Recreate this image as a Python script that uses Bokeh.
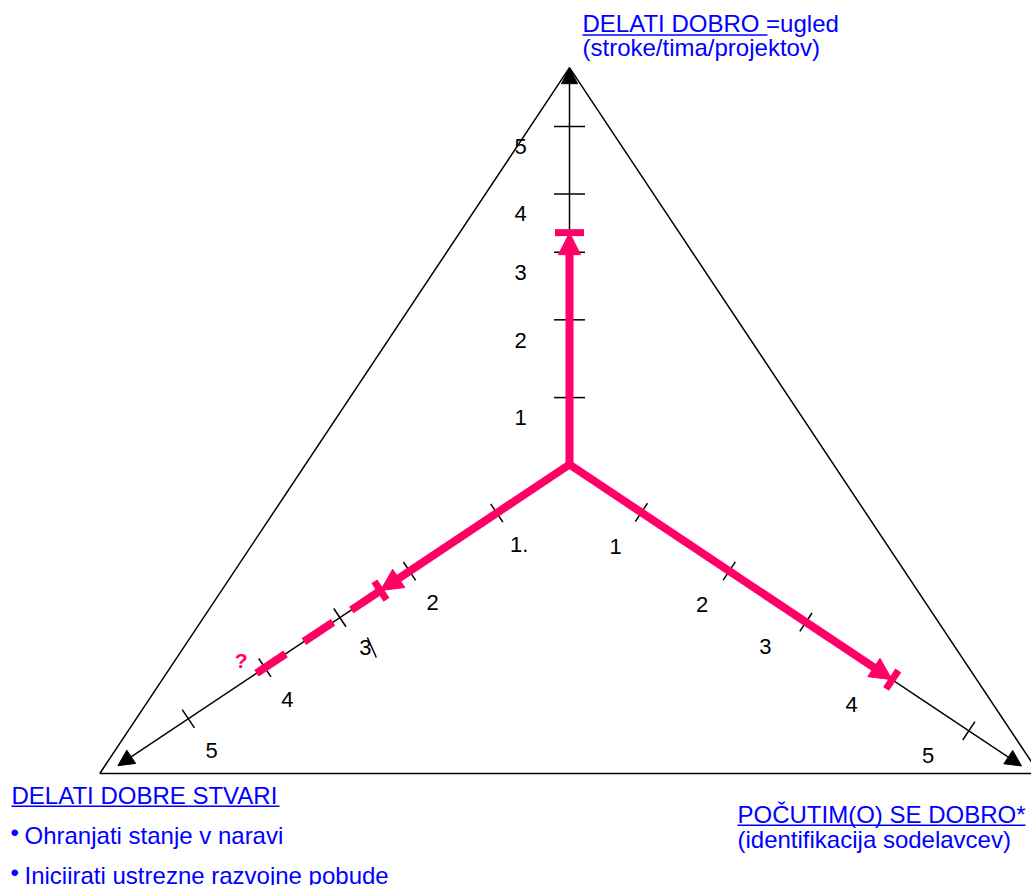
import math
from bokeh.plotting import figure
from bokeh.models import Range1d, Arrow, NormalHead
from bokeh.core.properties import value
from bokeh.embed import file_html
from bokeh.resources import INLINE

# ---------------- data ----------------
tick_labels = ["1", "2", "3", "4", "5"]
left_tick_labels = ["1.", "2", "3", "4", "5"]
# tick positions along each axis, as drawn in the original (score units)
tick_pos_top = [0.99, 2.14, 3.14, 4.0, 5.0]
tick_pos_right = [0.90, 2.0, 2.96, 4.04, 5.0]
tick_pos_left = [0.95, 2.09, 3.0, 3.98, 4.98]
# where the tick numbers sit along each axis (score units), as drawn in the original
label_pos_top = [0.70, 1.83, 2.84, 3.71, 4.70]
label_pos_right = [0.875, 1.96, 2.75, 3.83, 4.79]
label_pos_left = [0.94, 2.07, 2.95, 3.97, 4.96]
# assessed scores: top, right, left
score_solid = [3.43, 4.04, 2.47]
score_uncertain_left = 4.1
uncertain_mark = "?"

top_title = "DELATI DOBRO =ugled"
top_sub = "(stroke/tima/projektov)"
left_title = "DELATI DOBRE STVARI"
left_items = ["Ohranjati stanje v naravi", "Iniciirati ustrezne razvojne pobude"]
right_title = "POČUTIM(O) SE DOBRO*"
right_sub = "(identifikacija sodelavcev)"

# ---------------- style / layout ----------------
PINK = "#FF0066"
BLUE = "#0000FF"
FONT = "Liberation Sans"
TITLE_SIZE = "24px"
NUM_SIZE = "22px"

W, H = 1031, 885
CX, CY = 569, 464

p = figure(width=W, height=H, x_range=Range1d(0, W), y_range=Range1d(H, 0),
           output_backend="svg", toolbar_location=None, min_border=0,
           x_axis_location=None, y_axis_location=None)
p.grid.visible = False
p.outline_line_color = None
p.background_fill_color = "white"
p.border_fill_color = "white"

AXES = [
    dict(angle=-90.0, unit=67.6, extent=5.87, tick_half=15.5, cap_half=14.5, lab_perp=-49,
         ticks=tick_pos_top, lab_pos=label_pos_top, labels=tick_labels, score=score_solid[0]),
    dict(angle=33.7, unit=96.0, extent=5.66, tick_half=11, cap_half=11, lab_perp=43,
         ticks=tick_pos_right, lab_pos=label_pos_right, labels=tick_labels, score=score_solid[1]),
    dict(angle=146.3, unit=92.0, extent=5.9, tick_half=11, cap_half=11, lab_perp=-39,
         ticks=tick_pos_left, lab_pos=label_pos_left, labels=left_tick_labels, score=score_solid[2]),
]


def pt(ax, v, perp=0.0):
    a = math.radians(ax["angle"])
    dx, dy = math.cos(a), math.sin(a)
    nx, ny = -dy, dx
    L = v * ax["unit"]
    return CX + L * dx + perp * nx, CY + L * dy + perp * ny


# outer triangle (apex on top axis tip)
apx, apy = pt(AXES[0], AXES[0]["extent"])
base_y = 773
half_w = (base_y - apy) * 0.6655
tri_x = [CX - half_w, apx, CX + half_w, CX - half_w]
tri_y = [base_y, apy, base_y, base_y]
p.line(tri_x, tri_y, line_color="black", line_width=1.5)

# black axes with arrow heads
for ax in AXES:
    ex, ey = pt(ax, ax["extent"])
    p.add_layout(Arrow(end=NormalHead(size=16, fill_color="black", line_color="black"),
                       x_start=CX, y_start=CY, x_end=ex, y_end=ey,
                       line_color="black", line_width=1.5))

# ticks and labels
tx0, ty0, tx1, ty1 = [], [], [], []
lx, ly, lt = [], [], []
for ax in AXES:
    for v, lv, lab in zip(ax["ticks"], ax["lab_pos"], ax["labels"]):
        a0 = pt(ax, v, -ax["tick_half"])
        a1 = pt(ax, v, ax["tick_half"])
        tx0.append(a0[0]); ty0.append(a0[1]); tx1.append(a1[0]); ty1.append(a1[1])
        q = pt(ax, lv, ax["lab_perp"])
        lx.append(q[0]); ly.append(q[1]); lt.append(lab)
p.segment(tx0, ty0, tx1, ty1, line_color="black", line_width=1.5)
p.text(lx, ly, text=lt, text_font=value(FONT), text_font_size=NUM_SIZE,
       text_align="center", text_baseline="middle", text_color="black")

# stray tick next to the left "3"
l3x, l3y = pt(AXES[2], AXES[2]["lab_pos"][2], AXES[2]["lab_perp"])
p.segment([l3x + 2], [l3y - 10], [l3x + 11], [l3y + 10], line_color="black", line_width=1.5)

# pink score arrows with caps
cx0, cy0, cx1, cy1 = [], [], [], []
for ax in AXES:
    sx, sy = pt(ax, ax["score"])
    p.add_layout(Arrow(end=NormalHead(size=22, fill_color=PINK, line_color=PINK),
                       x_start=CX, y_start=CY, x_end=sx, y_end=sy,
                       line_color=PINK, line_width=8))
    c0 = pt(ax, ax["score"], -ax["cap_half"])
    c1 = pt(ax, ax["score"], ax["cap_half"])
    cx0.append(c0[0]); cy0.append(c0[1]); cx1.append(c1[0]); cy1.append(c1[1])
caps = p.segment(cx0, cy0, cx1, cy1, line_color=PINK, line_width=7)
caps.level = "overlay"

# uncertain (dashed) extension on the left axis
u0 = pt(AXES[2], score_solid[2])
u1 = pt(AXES[2], score_uncertain_left)
dl = p.line([u0[0], u1[0]], [u0[1], u1[1]], line_color=PINK, line_width=8,
            line_dash="35 22", line_cap="butt")
dl.level = "overlay"
p.text([u1[0] - 8], [u1[1] - 13], text=[uncertain_mark], text_font=value(FONT),
       text_font_size="21px", text_font_style="bold", text_color=PINK,
       text_align="right", text_baseline="middle")

# ---------------- titles (blue, underlined) ----------------
CAP_MID = 8.4   # distance from baseline to the middle of capitals


def title(x, base, txt, underline_len=None):
    p.text([x], [base - CAP_MID], text=[txt], text_font=value(FONT), text_font_size=TITLE_SIZE,
           text_color=BLUE, text_align="left", text_baseline="middle")
    if underline_len:
        p.segment([x], [base + 2.8], [x + underline_len], [base + 2.8], line_color=BLUE, line_width=1.6)


title(582, 31.7, top_title, 185)
title(582, 55.5, top_sub)
title(11, 803, left_title, 268)
for i, item in enumerate(left_items):
    base = 843 + 40 * i
    p.text([10], [base - 11], text=["•"], text_font=value(FONT), text_font_size="24px",
           text_color=BLUE, text_align="left", text_baseline="middle")
    title(24, base, item)
title(737, 822, right_title, 288)
title(737, 847, right_sub)

open("out.html", "w").write(file_html(p, INLINE))
